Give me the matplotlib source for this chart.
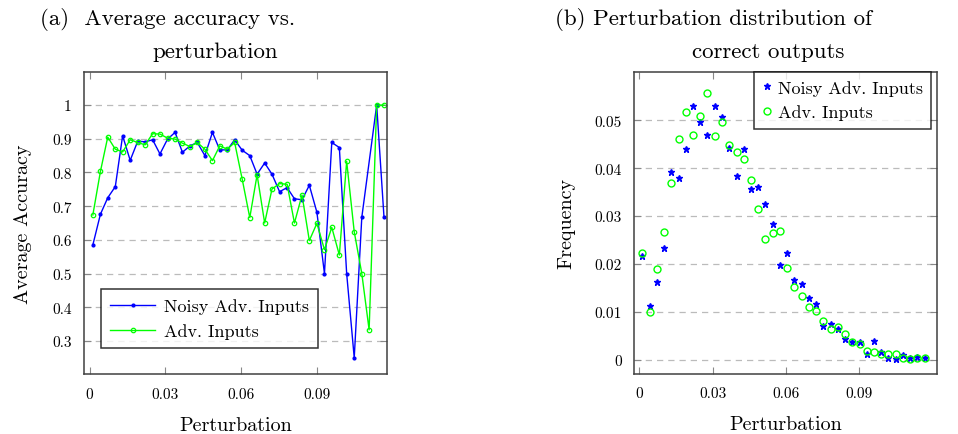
import numpy as np
import matplotlib
matplotlib.use("Agg")
import matplotlib.pyplot as plt

plt.rcParams["font.family"] = ["cmr10", "DejaVu Serif"]
plt.rcParams["mathtext.fontset"] = "cm"
plt.rcParams["axes.unicode_minus"] = False
plt.rcParams["axes.formatter.use_mathtext"] = True

# perturbation bin centres
pert = [0.0013, 0.0043, 0.0072, 0.0102, 0.0131, 0.0161, 0.0191, 0.0220, 0.0250, 0.0279,
        0.0309, 0.0339, 0.0368, 0.0398, 0.0427, 0.0457, 0.0487, 0.0516, 0.0546, 0.0575,
        0.0605, 0.0635, 0.0664, 0.0694, 0.0723, 0.0753, 0.0783, 0.0812, 0.0842, 0.0871,
        0.0901, 0.0931, 0.0960, 0.0990, 0.1019, 0.1049, 0.1079, 0.1108, 0.1138, 0.1167]

# (a) average accuracy per bin; the noisy run has no sample in bin 37
acc_noisy = [0.585, 0.676, 0.725, 0.758, 0.909, 0.836, 0.893, 0.891, 0.897, 0.855,
             0.899, 0.919, 0.860, 0.879, 0.889, 0.850, 0.919, 0.867, 0.867, 0.897,
             0.866, 0.850, 0.795, 0.828, 0.795, 0.743, 0.755, 0.722, 0.719, 0.762,
             0.682, 0.500, 0.889, 0.874, 0.500, 0.250, 0.667, None, 1.000, 0.667]
acc_adv = [0.674, 0.803, 0.905, 0.869, 0.861, 0.897, 0.889, 0.882, 0.915, 0.914,
           0.902, 0.899, 0.887, 0.877, 0.889, 0.869, 0.835, 0.879, 0.869, 0.889,
           0.780, 0.666, 0.793, 0.650, 0.751, 0.767, 0.765, 0.650, 0.733, 0.598,
           0.649, 0.571, 0.637, 0.555, 0.833, 0.624, 0.500, 0.333, 1.000, 1.000]

# (b) share of correct outputs per bin
freq_noisy = [0.0216, 0.0113, 0.0163, 0.0233, 0.0393, 0.0379, 0.0440, 0.0529, 0.0497, 0.0470,
              0.0529, 0.0506, 0.0442, 0.0384, 0.0440, 0.0356, 0.0360, 0.0326, 0.0284, 0.0198,
              0.0224, 0.0167, 0.0158, 0.0130, 0.0116, 0.0072, 0.0076, 0.0065, 0.0045, 0.0038,
              0.0037, 0.0012, 0.0040, 0.0017, 0.0005, 0.0002, 0.0010, 0.0004, 0.0006, 0.0005]
freq_adv = [0.0224, 0.0101, 0.0190, 0.0267, 0.0370, 0.0460, 0.0517, 0.0469, 0.0509, 0.0556,
            0.0467, 0.0497, 0.0449, 0.0433, 0.0420, 0.0376, 0.0314, 0.0252, 0.0265, 0.0269,
            0.0192, 0.0153, 0.0134, 0.0110, 0.0103, 0.0081, 0.0065, 0.0069, 0.0054, 0.0037,
            0.0033, 0.0019, 0.0016, 0.0012, 0.0012, 0.0012, 0.0004, 0.0003, 0.0004, 0.0004]

xticks = [0, 0.03, 0.06, 0.09]
xticklabels = ["0", "0.03", "0.06", "0.09"]
acc_ticks = [0.3, 0.4, 0.5, 0.6, 0.7, 0.8, 0.9, 1.0]
acc_ticklabels = ["0.3", "0.4", "0.5", "0.6", "0.7", "0.8", "0.9", "1"]
freq_ticks = [0, 0.01, 0.02, 0.03, 0.04, 0.05]
freq_ticklabels = ["0", "0.01", "0.02", "0.03", "0.04", "0.05"]

BLUE = "#0000ff"
GREEN = "#00ff00"

fig = plt.figure(figsize=(9.58, 4.35), dpi=100)
ax1 = fig.add_axes([0.0877, 0.1372, 0.3163, 0.6956])
ax2 = fig.add_axes([0.6621, 0.1379, 0.3157, 0.6950])


def style_axes(ax):
    for s in ax.spines.values():
        s.set_color("#404040")
        s.set_linewidth(1.1)
    ax.tick_params(direction="in", length=5, width=0.8, color="#888888",
                   top=True, right=True, labelsize=11, pad=9)
    ax.yaxis.grid(True, linestyle=(0, (5, 4)), color="#bbbbbb", linewidth=0.9)
    ax.set_axisbelow(True)


# noisy series drawn without the empty bin
px_noisy = [x for x, v in zip(pert, acc_noisy) if v is not None]
py_noisy = [v for v in acc_noisy if v is not None]

ax1.plot(px_noisy, py_noisy, color=BLUE, lw=1.0, marker="o", ms=2.0,
         label="Noisy Adv. Inputs")
ax1.plot(pert, acc_adv, color=GREEN, lw=1.0, marker="o", ms=3.2, mfc="none",
         mew=0.9, label="Adv. Inputs")
ax1.set_xlim(-0.0022, 0.1179)
ax1.set_ylim(0.201, 1.099)
ax1.set_xticks(xticks, xticklabels)
ax1.set_yticks(acc_ticks, acc_ticklabels)
style_axes(ax1)
ax1.set_xlabel("Perturbation", fontsize=14.5, labelpad=11)
ax1.set_ylabel("Average Accuracy", fontsize=14.5, labelpad=14)
leg1 = ax1.legend(loc="lower left", bbox_to_anchor=(0.056, 0.087), fontsize=13,
                  frameon=True, fancybox=False, edgecolor="black",
                  handlelength=2.5, handletextpad=0.5, borderpad=0.5,
                  labelspacing=0.5, borderaxespad=0)
leg1.get_frame().set_linewidth(1.1)

ax2.plot(pert, freq_noisy, linestyle="none", color=BLUE, marker="*", ms=5.0,
         label="Noisy Adv. Inputs")
ax2.plot(pert, freq_adv, linestyle="none", color=GREEN, marker="o", ms=5.0,
         mfc="none", mew=1.0, label="Adv. Inputs")
ax2.set_xlim(-0.00205, 0.1217)
ax2.set_ylim(-0.0029, 0.0601)
ax2.set_xticks(xticks, xticklabels)
ax2.set_yticks(freq_ticks, freq_ticklabels)
style_axes(ax2)
ax2.set_xlabel("Perturbation", fontsize=14.5, labelpad=11)
ax2.set_ylabel("Frequency", fontsize=14.5, labelpad=14)
leg2 = ax2.legend(loc="upper right", bbox_to_anchor=(0.98, 1.0), fontsize=13,
                  frameon=True, fancybox=False, edgecolor="black",
                  handlelength=0.5, handletextpad=0.35, borderpad=0.45,
                  labelspacing=0.5, borderaxespad=0)
leg2.get_frame().set_linewidth(1.1)

# subfigure captions
fig.text(40 / 958, 1 - 25 / 435, "(a)  Average accuracy vs.", fontsize=16.5,
         ha="left", va="baseline")
fig.text(215 / 958, 1 - 58 / 435, "perturbation", fontsize=16.5,
         ha="center", va="baseline")
fig.text(555 / 958, 1 - 25 / 435, "(b) Perturbation distribution of", fontsize=16.5,
         ha="left", va="baseline")
fig.text(768 / 958, 1 - 58 / 435, "correct outputs", fontsize=16.5,
         ha="center", va="baseline")

plt.savefig("out.png", dpi=100)
